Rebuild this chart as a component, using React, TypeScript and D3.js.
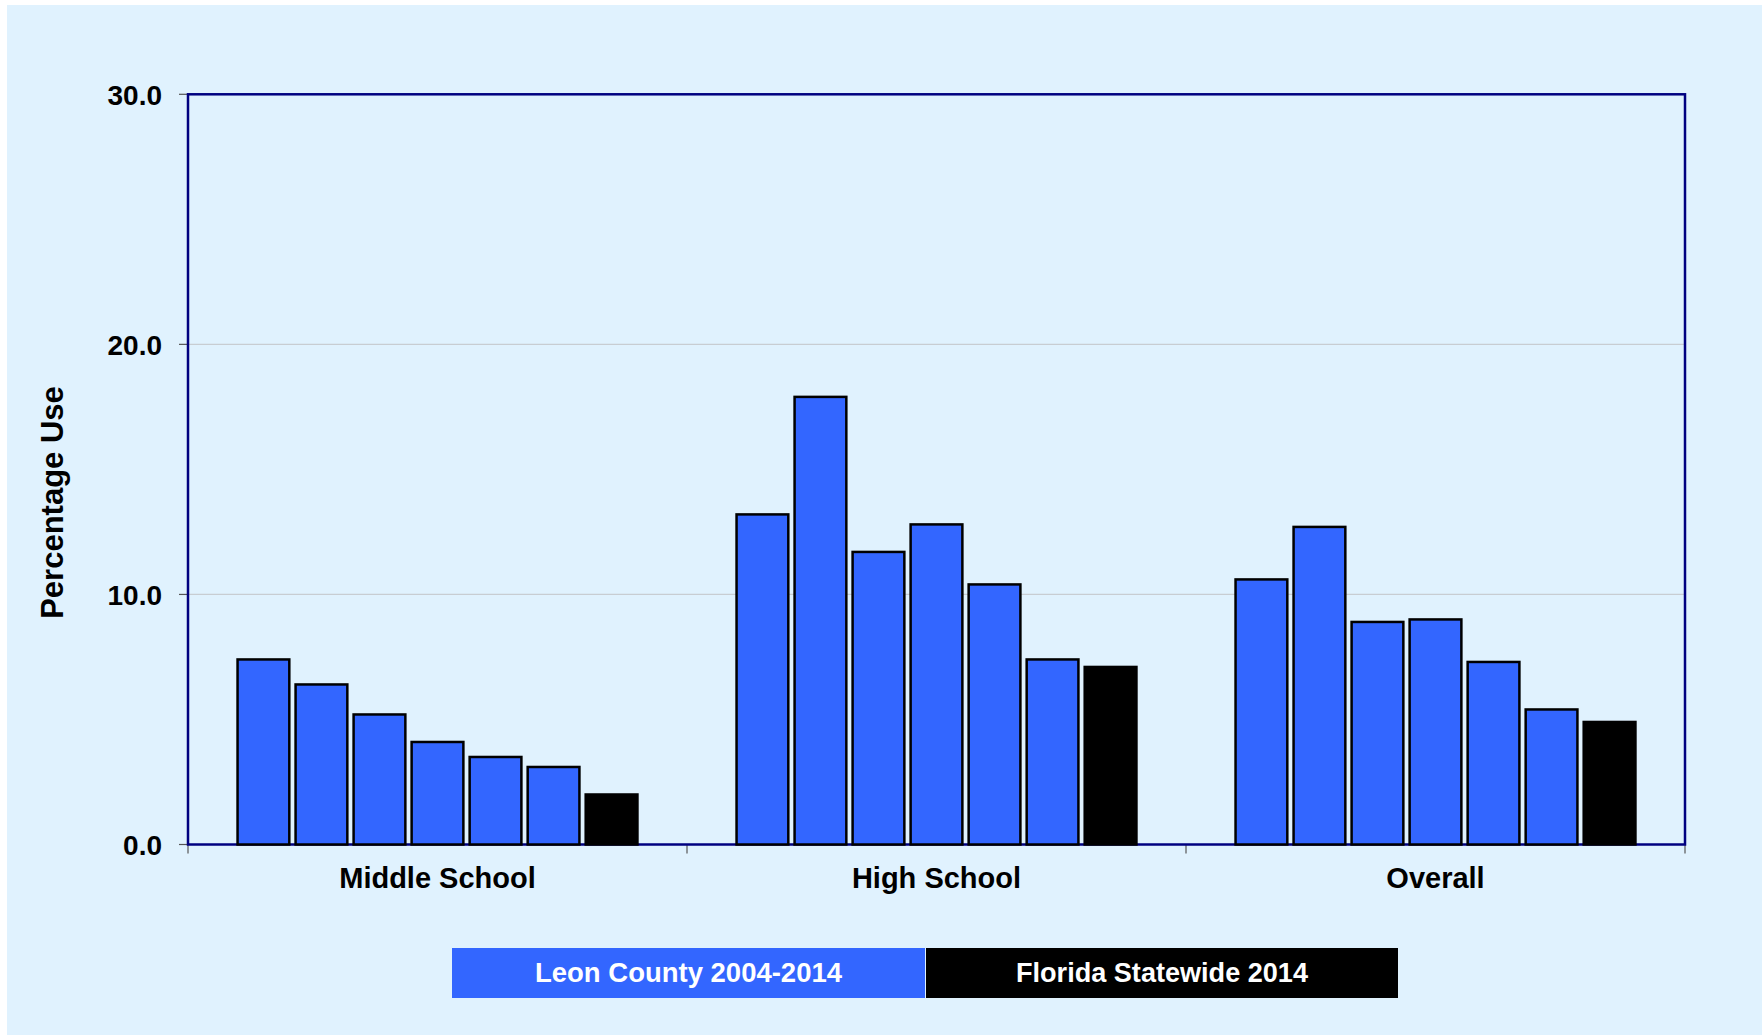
import React from "react";
import * as d3 from "d3";

const categories = ["Middle School", "High School", "Overall"];
const seriesKeys = ["2004", "2006", "2008", "2010", "2012", "2014", "Florida 2014"];
const leon2004 = [7.4, 13.2, 10.6];
const leon2006 = [6.4, 17.9, 12.7];
const leon2008 = [5.2, 11.7, 8.9];
const leon2010 = [4.1, 12.8, 9.0];
const leon2012 = [3.5, 10.4, 7.3];
const leon2014 = [3.1, 7.4, 5.4];
const florida2014 = [2.0, 7.1, 4.9];
const yTicks = [0, 10, 20, 30];
const legendLabels = ["Leon County 2004-2014", "Florida Statewide 2014"];

const seriesValues = [leon2004, leon2006, leon2008, leon2010, leon2012, leon2014, florida2014];

const W = 1762;
const H = 1035;
const plot = { left: 188, right: 1685, top: 94.3, bottom: 844.5 };
const BLUE = "#3366FF";
const NAVY = "#000080";
const BG = "#E0F2FE";

export default function App() {
  const x0 = d3.scaleBand<string>().domain(categories).range([plot.left, plot.right]).padding(0);
  const x1 = d3
    .scaleBand<string>()
    .domain(seriesKeys)
    .range([0, x0.bandwidth()])
    .paddingInner(0.108)
    .paddingOuter(0.854);
  const y = d3.scaleLinear().domain([0, 30]).range([plot.bottom, plot.top]);

  const bars: React.ReactNode[] = [];
  categories.forEach((cat, ci) => {
    seriesKeys.forEach((key, si) => {
      const v = seriesValues[si][ci];
      const isFl = si === seriesKeys.length - 1;
      bars.push(
        <rect
          key={cat + key}
          x={(x0(cat) as number) + (x1(key) as number)}
          y={y(v)}
          width={x1.bandwidth()}
          height={y(0) - y(v)}
          fill={isFl ? "#000000" : BLUE}
          stroke="#000000"
          strokeWidth={2.5}
        />
      );
    });
  });

  const font = "'Liberation Sans', Arial, Helvetica, sans-serif";
  const narrow = "'Liberation Sans Narrow', 'Liberation Sans', Arial, sans-serif";

  const legendY = 948;
  const legendH = 50;
  const legendBoxes = [
    { x: 452, w: 473, fill: BLUE, text: legendLabels[0], tl: 307 },
    { x: 926, w: 472, fill: "#000000", text: legendLabels[1], tl: 292 },
  ];

  return (
    <svg
      width={W}
      height={H}
      style={{ position: "absolute", left: 0, top: 0, display: "block" }}
    >
      <rect x={0} y={0} width={W} height={H} fill="#ffffff" />
      <rect x={7} y={5} width={W - 7} height={H - 5} fill={BG} />

      {yTicks
        .filter((t) => t > 0 && t < 30)
        .map((t) => (
          <line
            key={"g" + t}
            x1={plot.left}
            x2={plot.right}
            y1={y(t)}
            y2={y(t)}
            stroke="#C8CDD2"
            strokeWidth={1.2}
          />
        ))}

      {yTicks.map((t) => (
        <g key={"t" + t}>
          <line x1={179} x2={plot.left} y1={y(t)} y2={y(t)} stroke="#555" strokeWidth={1.2} />
          <text
            x={162}
            y={y(t) + 10.5}
            textAnchor="end"
            fontFamily={font}
            fontWeight="bold"
            fontSize={28}
            fill="#000"
          >
            {t.toFixed(1)}
          </text>
        </g>
      ))}

      {[...categories.map((c) => x0(c) as number), plot.right].map((xv, i) => (
        <line key={"bt" + i} x1={xv} x2={xv} y1={plot.bottom} y2={plot.bottom + 9} stroke="#555" strokeWidth={1.2} />
      ))}

      <rect
        x={plot.left}
        y={plot.top}
        width={plot.right - plot.left}
        height={plot.bottom - plot.top}
        fill="none"
        stroke={NAVY}
        strokeWidth={2.5}
      />

      {bars}

      {categories.map((c) => (
        <text
          key={"c" + c}
          x={(x0(c) as number) + x0.bandwidth() / 2}
          y={888}
          textAnchor="middle"
          fontFamily={font}
          fontWeight="bold"
          fontSize={29}
          fill="#000"
        >
          {c}
        </text>
      ))}

      <text
        transform="translate(63,502.5) rotate(-90)"
        textAnchor="middle"
        fontFamily={font}
        fontWeight="bold"
        fontSize={31}
        fill="#000"
      >
        Percentage Use
      </text>

      {legendBoxes.map((b) => (
        <g key={b.text}>
          <rect x={b.x} y={legendY} width={b.w} height={legendH} fill={b.fill} />
          <text
            x={b.x + b.w / 2}
            y={982}
            textAnchor="middle"
            fontFamily={narrow}
            fontWeight="bold"
            fontSize={28}
            fill="#ffffff"
            textLength={b.tl}
            lengthAdjust="spacingAndGlyphs"
          >
            {b.text}
          </text>
        </g>
      ))}
    </svg>
  );
}
